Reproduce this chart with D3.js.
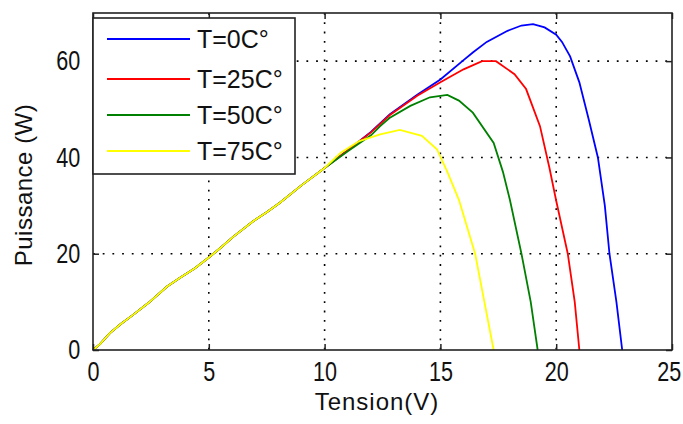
<!DOCTYPE html>
<html>
<head>
<meta charset="utf-8">
<script src="https://cdn.jsdelivr.net/npm/d3@7"></script>
<style>
  body { margin: 0; background: #fff; }
  text { font-family: "Liberation Sans", Arial, sans-serif; fill: #111; }
</style>
</head>
<body>
<div id="graph"></div>
<script>

// x ticks / y ticks
var xTicks = [0, 5, 10, 15, 20, 25];
var yTicks = [0, 20, 40, 60];

// common start of the curves (all temperatures)
var vStart = [0, 0.3, 0.73, 1.2, 1.73, 2.4, 3.2, 3.76, 4.4, 5, 5.5, 6.05, 6.9, 7.5, 8.07, 9, 10];
var pStart = [0, 1.2, 3.5, 5.4, 7.3, 9.8, 13.2, 15, 17, 19.2, 21.2, 23.5, 26.7, 28.6, 30.6, 34.2, 37.8];

// T=0C
var v0 = [11, 12, 12.82, 14, 15, 16, 16.4, 17, 17.9, 18.5, 19, 19.5, 20, 20.25, 20.6, 21, 21.4, 21.8, 22.1, 22.3, 22.6, 22.85];
var p0 = [41.5, 45.3, 49, 53, 56.2, 60.2, 61.8, 64, 66.3, 67.4, 67.7, 67, 65.5, 64, 61, 55.6, 48, 40, 30, 20, 10, 0];

// T=25C
var v25 = [11, 12, 12.82, 14, 15, 16, 16.8, 17.4, 18.2, 18.7, 19.3, 19.7, 20, 20.5, 20.8, 21];
var p25 = [41.5, 45.2, 48.8, 52.8, 55.6, 58.3, 60, 60, 57.3, 54.2, 46.5, 38, 31, 20, 10, 0];

// T=50C
var v50 = [11, 12, 12.4, 12.8, 13.7, 14.55, 15.3, 15.8, 16.4, 17.3, 17.7, 18, 18.5, 18.9, 19.2];
var p50 = [41.3, 44.6, 46.5, 48.2, 50.7, 52.5, 53, 51.8, 49.3, 43, 37, 31.2, 20, 10, 0];

// T=75C
var v75 = [10.7, 11.5, 12.4, 13.25, 14.2, 14.85, 15.3, 15.8, 16.5, 16.9, 17.3];
var p75 = [41, 43.4, 44.8, 45.7, 44.5, 41.7, 37, 31.2, 20, 10, 0];

var series = [
  { label: "T=0C\u00b0", color: "#0000ff", v: vStart.concat(v0), p: pStart.concat(p0) },
  { label: "T=25C\u00b0", color: "#ff0000", v: vStart.concat(v25), p: pStart.concat(p25) },
  { label: "T=50C\u00b0", color: "#008000", v: vStart.concat(v50), p: pStart.concat(p50) },
  { label: "T=75C\u00b0", color: "#ffff00", v: vStart.concat(v75), p: pStart.concat(p75) }
];

// set the dimensions and margins of the graph
var margin = {top: 13, right: 11, bottom: 74, left: 93},
    width = 683 - margin.left - margin.right,
    height = 424 - margin.top - margin.bottom;

var svg = d3.select("#graph")
  .append("svg")
    .attr("width", 683)
    .attr("height", 424)
  .append("g")
    .attr("transform", "translate(" + margin.left + "," + margin.top + ")");

var x = d3.scaleLinear().domain([0, 25]).range([0, width]);
var y = d3.scaleLinear().domain([0, 70]).range([height, 0]);

// grid (dotted)
svg.append("g").selectAll("line.gx")
  .data(xTicks.slice(1, -1))
  .enter().append("line")
    .attr("x1", function(d) { return x(d); })
    .attr("x2", function(d) { return x(d); })
    .attr("y1", 0).attr("y2", height)
    .attr("stroke", "#000")
    .attr("stroke-width", 1.6)
    .attr("stroke-dasharray", "1.8,7.5");

svg.append("g").selectAll("line.gy")
  .data(yTicks.slice(1))
  .enter().append("line")
    .attr("y1", function(d) { return y(d); })
    .attr("y2", function(d) { return y(d); })
    .attr("x1", 0).attr("x2", width)
    .attr("stroke", "#000")
    .attr("stroke-width", 1.6)
    .attr("stroke-dasharray", "1.8,7.9");

// curves
var line = d3.line()
  .x(function(d) { return x(d[0]); })
  .y(function(d) { return y(d[1]); });

series.forEach(function(s) {
  svg.append("path")
    .datum(d3.zip(s.v, s.p))
    .attr("fill", "none")
    .attr("stroke", s.color)
    .attr("stroke-width", 1.8)
    .attr("d", line);
});

// axes box with inward ticks
function axisStyle(g) {
  g.select(".domain").remove();
  g.selectAll(".tick line").attr("stroke", "#222").attr("stroke-width", 1.5);
  g.selectAll(".tick text")
    .style("font-size", "27px")
    .style("font-family", "'Liberation Sans', Arial, sans-serif")
    .attr("transform", "scale(0.8,1)")
    .attr("fill", "#111");
}

var xAxis = svg.append("g")
  .attr("transform", "translate(0," + height + ")")
  .call(d3.axisBottom(x).tickValues(xTicks).tickSize(-6).tickPadding(12))
  .call(axisStyle);

// last label sits against the right edge
xAxis.selectAll(".tick text")
  .filter(function(d) { return d === 25; })
  .attr("dx", -4);

svg.append("g")
  .call(d3.axisLeft(y).tickValues(yTicks).tickSize(-6).tickPadding(16))
  .call(axisStyle);

svg.append("g")
  .call(d3.axisTop(x).tickValues(xTicks).tickSize(-6).tickFormat(""))
  .call(axisStyle);

svg.append("g")
  .attr("transform", "translate(" + width + ",0)")
  .call(d3.axisRight(y).tickValues(yTicks).tickSize(-6).tickFormat(""))
  .call(axisStyle);

svg.append("rect")
  .attr("width", width).attr("height", height)
  .attr("fill", "none")
  .attr("stroke", "#222")
  .attr("stroke-width", 1.6);

// legend
var legend = svg.append("g").attr("transform", "translate(0,5)");
legend.append("rect")
  .attr("width", 202).attr("height", 156)
  .attr("fill", "#fff")
  .attr("stroke", "#222")
  .attr("stroke-width", 1.6);

var rowY = [21, 61, 97, 133];
series.forEach(function(s, i) {
  legend.append("line")
    .attr("x1", 14).attr("x2", 97)
    .attr("y1", rowY[i]).attr("y2", rowY[i])
    .attr("stroke", s.color)
    .attr("stroke-width", 2);
  legend.append("text")
    .attr("x", 104).attr("y", rowY[i] + 9)
    .style("font-size", "25px")
    .text(s.label);
});

// axis labels
svg.append("text")
  .attr("x", 284)
  .attr("y", height + 60)
  .attr("text-anchor", "middle")
  .style("font-size", "24px")
  .style("letter-spacing", "1px")
  .text("Tension(V)");

svg.append("text")
  .attr("transform", "rotate(-90)")
  .attr("x", -172)
  .attr("y", -margin.left + 32)
  .attr("text-anchor", "middle")
  .style("font-size", "24px")
  .style("letter-spacing", "0.5px")
  .text("Puissance (W)");

</script>
</body>
</html>
